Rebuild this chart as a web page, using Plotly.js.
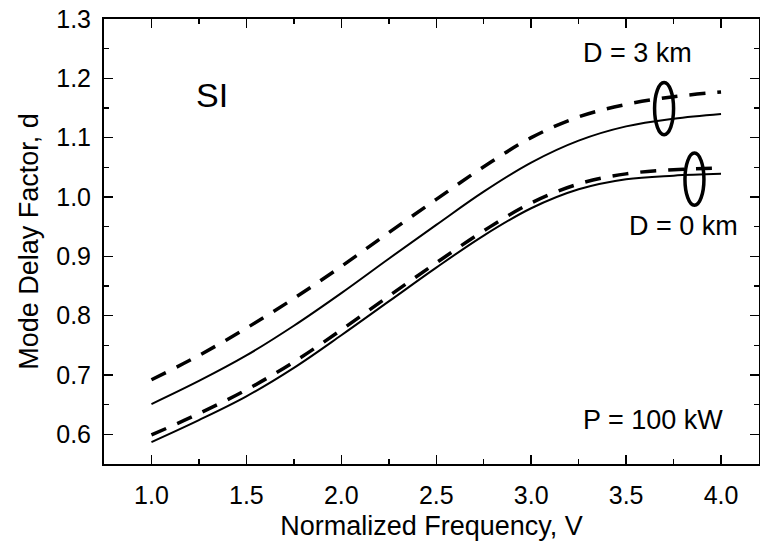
<!DOCTYPE html>
<html>
<head>
<meta charset="utf-8">
<script src="https://cdn.plot.ly/plotly-3.0.1.min.js"></script>
<style>html,body{margin:0;padding:0;background:#fff;}#chart{width:760px;height:550px;}</style>
</head>
<body>
<div id="chart"></div>
<script>
// Normalized frequency V
const V = [1.0, 1.25, 1.5, 1.75, 2.0, 2.25, 2.5, 2.75, 3.0, 3.25, 3.5, 3.75, 4.0];
// Mode delay factor d
const d_D3_dashed = [0.692, 0.733, 0.779, 0.829, 0.883, 0.940, 0.996, 1.051, 1.100, 1.135, 1.156, 1.169, 1.177];
const d_D3_solid  = [0.651, 0.690, 0.733, 0.783, 0.838, 0.896, 0.953, 1.009, 1.058, 1.095, 1.119, 1.132, 1.140];
const d_D0_dashed = [0.599, 0.635, 0.675, 0.722, 0.776, 0.833, 0.889, 0.943, 0.990, 1.022, 1.039, 1.046, 1.049];
const d_D0_solid  = [0.587, 0.624, 0.664, 0.712, 0.767, 0.824, 0.881, 0.935, 0.981, 1.013, 1.030, 1.036, 1.039];

const labels = ["SI", "D = 3 km", "D = 0 km", "P = 100 kW"];
const labelX = [1.317, 3.56, 3.80, 3.64];
const labelY = [1.172, 1.243, 0.951, 0.624];

// grouping ellipses (centre x, centre y)
const ellX = [3.70, 3.86];
const ellY = [1.149, 1.030];

const FONT = "Liberation Sans, Arial, sans-serif";

function tr(y, dashed) {
  return {
    x: V, y: y, type: 'scatter', mode: 'lines',
    line: {color: '#000', width: dashed ? 3.5 : 2, dash: dashed ? '16px,12px' : 'solid', shape: 'spline', smoothing: 1.0},
    showlegend: false, hoverinfo: 'skip'
  };
}

const data = [tr(d_D3_dashed, true), tr(d_D3_solid, false), tr(d_D0_dashed, true), tr(d_D0_solid, false)];

const annotations = labels.map((t, i) => ({
  x: labelX[i], y: labelY[i], xref: 'x', yref: 'y', text: t, showarrow: false,
  font: {family: FONT, size: i === 0 ? 34 : 27, color: '#000'}
}));

const shapes = ellX.map((cx, i) => ({
  type: 'circle', xref: 'x', yref: 'y',
  x0: cx - 0.05, x1: cx + 0.05, y0: ellY[i] - 0.044, y1: ellY[i] + 0.044,
  line: {color: '#000', width: 3.5}
}));

const axisCommon = {
  showline: true, linecolor: '#000', linewidth: 2, mirror: 'ticks',
  ticks: 'inside', ticklen: 9, tickwidth: 1.5, tickcolor: '#000',
  showgrid: false, zeroline: false,
  tickfont: {family: FONT, size: 25, color: '#000'}
};

const layout = {
  width: 760, height: 550,
  margin: {l: 104, r: 1, t: 19, b: 86},
  paper_bgcolor: '#fff', plot_bgcolor: '#fff',
  xaxis: Object.assign({}, axisCommon, {
    range: [0.75, 4.2], tickvals: [1.0, 1.5, 2.0, 2.5, 3.0, 3.5, 4.0],
    ticktext: ['1.0', '1.5', '2.0', '2.5', '3.0', '3.5', '4.0'],
    minor: {dtick: 0.25, tick0: 0.75, ticks: 'inside', ticklen: 5, tickcolor: '#000', tickwidth: 1.5},
    ticklabelstandoff: 8,
    title: {text: 'Normalized Frequency, V', font: {family: FONT, size: 27, color: '#000'}, standoff: 8}
  }),
  yaxis: Object.assign({}, axisCommon, {
    range: [0.55, 1.3], tickvals: [0.6, 0.7, 0.8, 0.9, 1.0, 1.1, 1.2, 1.3],
    ticktext: ['0.6', '0.7', '0.8', '0.9', '1.0', '1.1', '1.2', '1.3'],
    minor: {dtick: 0.05, tick0: 0.55, ticks: 'inside', ticklen: 5, tickcolor: '#000', tickwidth: 1.5},
    ticklabelstandoff: 6,
    title: {text: 'Mode Delay Factor, d', font: {family: FONT, size: 27, color: '#000'}, standoff: 10}
  }),
  annotations: annotations,
  shapes: shapes
};

Plotly.newPlot('chart', data, layout, {staticPlot: true, displayModeBar: false});
</script>
</body>
</html>
